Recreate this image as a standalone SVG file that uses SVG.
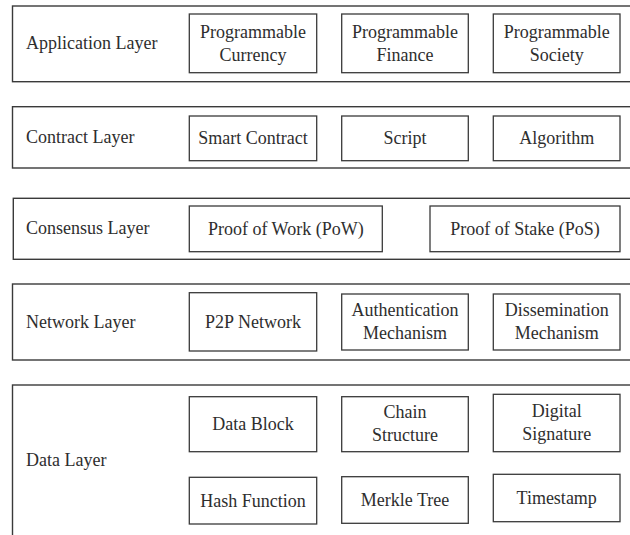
<svg xmlns="http://www.w3.org/2000/svg" width="630" height="535" viewBox="0 0 630 535">
<style>
.outer{fill:none;stroke:#3a3a3a;stroke-width:1.4}
.box{fill:#fff;stroke:#3a3a3a;stroke-width:1.3}
text{font-family:'Liberation Serif','DejaVu Serif',serif;font-size:18px;fill:#2e2e2e}
.c{text-anchor:middle}
</style>
<rect width="630" height="535" fill="#fff"/>
<g id="connectors"></g>
<g id="application-layer">
<rect class="outer" x="12.5" y="6" width="630" height="75.7"/>
<text x="26" y="49">Application Layer</text>
</g>
<g id="programmable-currency"><rect class="box" x="189.3" y="14" width="127.4" height="58.7"/><text class="c" x="253" y="37.6">Programmable</text><text class="c" x="253" y="61">Currency</text></g>
<g id="programmable-finance"><rect class="box" x="341.7" y="14" width="126.6" height="58.7"/><text class="c" x="405" y="37.6">Programmable</text><text class="c" x="405" y="61">Finance</text></g>
<g id="programmable-society"><rect class="box" x="493.3" y="14" width="126.7" height="58.7"/><text class="c" x="556.7" y="37.6">Programmable</text><text class="c" x="556.7" y="61">Society</text></g>

<g id="contract-layer">
<rect class="outer" x="12.5" y="106.7" width="630" height="61.3"/>
<text x="26" y="142.7">Contract Layer</text>
</g>
<g id="smart-contract"><rect class="box" x="189.3" y="116" width="127.4" height="44.7"/><text class="c" x="253" y="144">Smart Contract</text></g>
<g id="script"><rect class="box" x="341.7" y="116" width="126.6" height="44.7"/><text class="c" x="405" y="144">Script</text></g>
<g id="algorithm"><rect class="box" x="493.3" y="116" width="126.7" height="44.7"/><text class="c" x="556.7" y="144">Algorithm</text></g>

<g id="consensus-layer">
<rect class="outer" x="13.3" y="198.3" width="630" height="61"/>
<text x="26" y="234">Consensus Layer</text>
</g>
<g id="pow"><rect class="box" x="189.3" y="206" width="193" height="45.7"/><text class="c" x="285.8" y="234.5">Proof of Work (PoW)</text></g>
<g id="pos"><rect class="box" x="430" y="206" width="190" height="45.7"/><text class="c" x="525" y="234.5">Proof of Stake (PoS)</text></g>

<g id="network-layer">
<rect class="outer" x="12.5" y="284" width="630" height="76"/>
<text x="26" y="327.5">Network Layer</text>
</g>
<g id="p2p-network"><rect class="box" x="189.3" y="292.7" width="127.4" height="58.3"/><text class="c" x="253" y="327.8">P2P Network</text></g>
<g id="authentication-mechanism"><rect class="box" x="341.7" y="294" width="126.6" height="56"/><text class="c" x="405" y="316">Authentication</text><text class="c" x="405" y="339">Mechanism</text></g>
<g id="dissemination-mechanism"><rect class="box" x="493.3" y="294" width="126.7" height="56"/><text class="c" x="556.7" y="316">Dissemination</text><text class="c" x="556.7" y="339">Mechanism</text></g>

<g id="data-layer">
<rect class="outer" x="12.5" y="385" width="630" height="170"/>
<text x="26" y="466">Data Layer</text>
</g>
<g id="data-block"><rect class="box" x="189.3" y="396.7" width="127.4" height="55"/><text class="c" x="253" y="430">Data Block</text></g>
<g id="chain-structure"><rect class="box" x="341.7" y="396.7" width="126.6" height="55"/><text class="c" x="405" y="418">Chain</text><text class="c" x="405" y="441">Structure</text></g>
<g id="digital-signature"><rect class="box" x="493.3" y="394.3" width="126.7" height="57.4"/><text class="c" x="556.7" y="416.5">Digital</text><text class="c" x="556.7" y="440">Signature</text></g>
<g id="hash-function"><rect class="box" x="189.3" y="477.3" width="127.4" height="46.7"/><text class="c" x="253" y="506.7">Hash Function</text></g>
<g id="merkle-tree"><rect class="box" x="341.7" y="476.7" width="126.6" height="46.6"/><text class="c" x="405" y="506">Merkle Tree</text></g>
<g id="timestamp"><rect class="box" x="493.3" y="474.3" width="126.7" height="47.4"/><text class="c" x="556.7" y="504">Timestamp</text></g>
</svg>
